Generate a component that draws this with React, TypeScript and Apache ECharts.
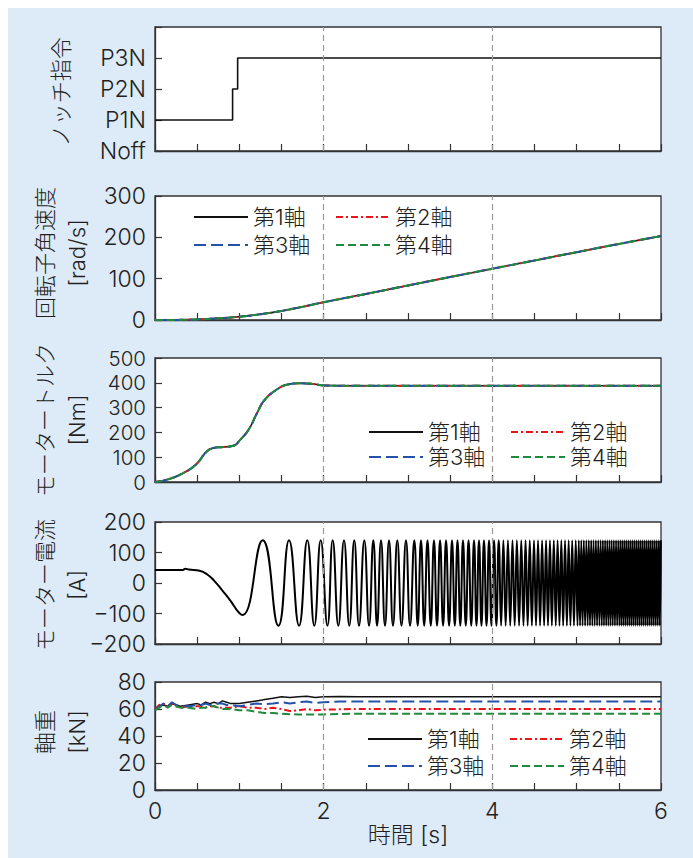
import React, { useEffect, useRef } from "react";
import * as echarts from "echarts";

// ---------- data ----------
const X_LABELS = [0, 2, 4, 6];
const NOTCH_LABELS = ["Noff", "P1N", "P2N", "P3N", ""];
const AXLES = ["第1軸", "第2軸", "第3軸", "第4軸"];

const notchT = [0, 0.92, 0.92, 0.98, 0.98, 6];
const notchV = [1, 1, 2, 2, 3, 3];

const speedT = [0, 0.25, 0.5, 0.75, 1, 1.25, 1.5, 1.75, 2, 2.5, 3, 3.5, 4, 4.5, 5, 5.5, 6];
const speedV = [0, 0.3, 1.5, 4, 8, 14, 22, 32, 43, 63, 83.5, 104, 124, 144, 164, 184, 203];

const torqueT = [0, 0.14, 0.34, 0.49, 0.61, 0.69, 0.81, 0.93, 1.01, 1.11, 1.21, 1.3, 1.44, 1.56, 1.72, 1.88, 2.0, 2.5, 3, 4, 5, 6];
const torqueV = [0, 9, 37, 72, 122, 137, 141, 146, 170, 211, 278, 331, 372, 392, 398, 395, 389, 388, 388, 388, 388, 388];

// motor current: slow start, then alternating extremes
const currentStartT = [0, 0.33, 0.36, 0.4, 0.53, 0.62, 0.7, 0.8, 0.9, 0.98, 1.04];
const currentStartV = [43, 43, 47, 44, 40, 28, 8, -25, -60, -92, -105];
const CURRENT_PEAK = 140;
const CURRENT_TROUGH = -140;
const currentPeakT = [
  1.277, 1.589, 1.806, 1.965, 2.107, 2.241, 2.363, 2.482, 2.589, 2.68, 2.775, 2.873, 2.976, 3.075,
  3.154, 3.231, 3.308, 3.38, 3.451, 3.522, 3.587, 3.652, 3.718, 3.783, 3.842, 3.901, 3.961, 4.02,
  4.076, 4.131, 4.185, 4.239, 4.291, 4.343, 4.394, 4.444, 4.494, 4.542, 4.59, 4.637, 4.683, 4.729,
  4.774, 4.818, 4.862, 4.905, 4.947, 4.989, 5.025, 5.055, 5.085, 5.115, 5.144, 5.172, 5.2, 5.228,
  5.256, 5.284, 5.311, 5.337, 5.363, 5.389, 5.415, 5.441, 5.467, 5.493, 5.518, 5.542, 5.566, 5.59,
  5.614, 5.638, 5.662, 5.686, 5.71, 5.734, 5.758, 5.782, 5.806, 5.83, 5.854, 5.878, 5.902, 5.926,
  5.95, 5.974, 5.998,
];
const currentTroughT = [
  1.463, 1.708, 1.889, 2.045, 2.174, 2.304, 2.419, 2.538, 2.633, 2.727, 2.822, 2.923, 3.024, 3.115,
  3.192, 3.27, 3.344, 3.416, 3.487, 3.555, 3.62, 3.685, 3.75, 3.812, 3.871, 3.931, 3.99, 4.048,
  4.104, 4.158, 4.212, 4.265, 4.317, 4.369, 4.419, 4.469, 4.518, 4.566, 4.614, 4.66, 4.706, 4.752,
  4.796, 4.84, 4.884, 4.926, 4.968, 5.01, 5.04, 5.07, 5.1, 5.13, 5.158, 5.186, 5.214, 5.242, 5.27,
  5.298, 5.324, 5.35, 5.376, 5.402, 5.428, 5.454, 5.48, 5.506, 5.53, 5.554, 5.578, 5.602, 5.626,
  5.65, 5.674, 5.698, 5.722, 5.746, 5.77, 5.794, 5.818, 5.842, 5.866, 5.89, 5.914, 5.938, 5.962,
  5.986,
];

const loadT = [0, 0.05, 0.1, 0.15, 0.2, 0.25, 0.3, 0.4, 0.5, 0.55, 0.6, 0.65, 0.7, 0.75, 0.8, 0.85, 0.9, 1.0, 1.1, 1.2, 1.3, 1.4, 1.5, 1.6, 1.7, 1.8, 1.9, 2.0, 2.2, 2.4, 3, 4, 5, 6];
const load1 = [60, 62, 63, 62, 64, 63, 62, 63, 64, 63, 65, 64, 65, 64, 66, 65, 64, 64, 65, 66, 67, 68, 69, 68.5, 69, 69.5, 68.5, 69, 69.2, 69, 69, 69, 69, 69];
const load2 = [60, 63, 64, 62, 64, 62, 61, 62, 62, 62, 61, 62, 62, 61, 61, 61, 61, 62, 61, 61, 60, 61, 60, 58.5, 59, 60, 59, 59.5, 59.8, 60, 60, 60, 60, 60];
const load3 = [59, 62, 64, 62, 65, 63, 62, 62, 63, 63, 64, 63, 63, 64, 64, 63, 63, 62, 63, 64, 63.5, 64, 65, 64, 65, 65.5, 64.5, 65, 65.5, 65.5, 65.5, 65.5, 65.5, 65.5];
const load4 = [59, 61, 63, 61, 63, 62, 61, 61, 60, 61, 61, 62, 62, 61, 60, 60, 60, 59, 59, 58, 57, 57, 56.5, 56.2, 56, 56, 56, 56, 56.3, 56.5, 56.5, 56.5, 56.5, 56.5];

// ---------- styles ----------
const FONT = "Inter, 'Noto Sans CJK JP', sans-serif";
const WEIGHT = 300;
const TXT = "#231f20";
const AXLE_STYLES = [
  { color: "#111111", type: "solid" as any, width: 1.5 },
  { color: "#e8141c", type: [7, 3, 2, 3], width: 2 },
  { color: "#2452a6", type: [12, 5], width: 2 },
  { color: "#1f8a3e", type: [8, 4], width: 2 },
];

const zip = (t: number[], v: number[]) => t.map((x, i) => [x, v[i]]);

export default function App() {
  const ref = useRef<HTMLDivElement>(null);
  useEffect(() => {
    if (!ref.current) return;
    const chart = echarts.init(ref.current, undefined, { renderer: "svg" });

    const grids = [
      { top: 19, height: 124 },
      { top: 188, height: 124 },
      { top: 350, height: 124 },
      { top: 514, height: 122 },
      { top: 674, height: 108 },
    ].map((g) => ({
      left: 147,
      width: 506,
      top: g.top,
      height: g.height,
      show: true,
      backgroundColor: "#ffffff",
      borderColor: "#333333",
      borderWidth: 1.3,
    }));

    const xAxes = grids.map((_, i) => ({
      gridIndex: i,
      type: "value",
      min: 0,
      max: 6,
      interval: 0.5,
      axisLine: { show: true, onZero: false, lineStyle: { color: "#333333", width: 1.3 } },
      axisTick: { show: true, inside: true, length: 7, lineStyle: { color: "#333333", width: 1.2 } },
      splitLine: { show: false },
      axisLabel: {
        show: i === 4,
        margin: 9,
        fontSize: 23,
        fontFamily: FONT,
        fontWeight: WEIGHT,
        color: TXT,
        formatter: (v: number) => (X_LABELS.includes(v) ? String(v) : ""),
      },
    }));

    const yCommon = {
      type: "value",
      axisLine: { show: true, onZero: false, lineStyle: { color: "#333333", width: 1.3 } },
      axisTick: { show: true, inside: true, length: 7, lineStyle: { color: "#333333", width: 1.2 } },
      splitLine: { show: false },
    };
    const lbl = (formatter?: any, fontSize = 23) => ({
      margin: 9,
      fontSize,
      lineHeight: 20,
      fontFamily: FONT,
      fontWeight: WEIGHT,
      color: TXT,
      ...(formatter ? { formatter } : {}),
    });
    const yAxes = [
      { ...yCommon, gridIndex: 0, min: 0, max: 4, interval: 1, axisLabel: lbl((v: number) => NOTCH_LABELS[v] ?? "") },
      { ...yCommon, gridIndex: 1, min: 0, max: 300, interval: 100, axisLabel: lbl() },
      { ...yCommon, gridIndex: 2, min: 0, max: 500, interval: 100, axisLabel: lbl(undefined, 20.5) },
      {
        ...yCommon,
        gridIndex: 3,
        min: -200,
        max: 200,
        interval: 100,
        axisLabel: lbl((v: number) => (v < 0 ? "\u2212" + Math.abs(v) : String(v))),
      },
      { ...yCommon, gridIndex: 4, min: 0, max: 80, interval: 20, axisLabel: lbl() },
    ];

    const markLine = {
      silent: true,
      symbol: ["none", "none"],
      label: { show: false },
      lineStyle: { color: "#9a9a9a", type: [6, 4], width: 1.2 },
      data: [{ xAxis: 2 }, { xAxis: 4 }],
    };

    const series: any[] = [];
    series.push({
      type: "line",
      name: "notch",
      xAxisIndex: 0,
      yAxisIndex: 0,
      data: zip(notchT, notchV),
      symbol: "none",
      lineStyle: { color: "#111", width: 1.6 },
      markLine,
    });

    const speedSets = [speedV, speedV, speedV, speedV];
    AXLES.forEach((name, k) => {
      series.push({
        type: "line",
        name,
        xAxisIndex: 1,
        yAxisIndex: 1,
        data: zip(speedT, speedSets[k]),
        symbol: "none",
        smooth: true,
        color: AXLE_STYLES[k].color,
        lineStyle: { ...AXLE_STYLES[k] },
        ...(k === 0 ? { markLine } : {}),
      });
    });

    const torqueSets = [torqueV, torqueV, torqueV, torqueV];
    AXLES.forEach((name, k) => {
      series.push({
        type: "line",
        name,
        xAxisIndex: 2,
        yAxisIndex: 2,
        data: zip(torqueT, torqueSets[k]),
        symbol: "none",
        smooth: true,
        color: AXLE_STYLES[k].color,
        lineStyle: { ...AXLE_STYLES[k] },
        ...(k === 0 ? { markLine } : {}),
      });
    });

    const currentData: number[][] = zip(currentStartT, currentStartV);
    const ext: number[][] = [
      ...currentPeakT.map((t) => [t, CURRENT_PEAK]),
      ...currentTroughT.map((t) => [t, CURRENT_TROUGH]),
    ].sort((a, b) => a[0] - b[0]);
    currentData.push(...ext);
    series.push({
      type: "line",
      name: "current",
      xAxisIndex: 3,
      yAxisIndex: 3,
      data: currentData,
      symbol: "none",
      smooth: 0.5,
      lineStyle: { color: "#000", width: 2 },
      markLine,
    });

    const loadSets = [load1, load2, load3, load4];
    AXLES.forEach((name, k) => {
      series.push({
        type: "line",
        name,
        xAxisIndex: 4,
        yAxisIndex: 4,
        data: zip(loadT, loadSets[k]),
        symbol: "none",
        color: AXLE_STYLES[k].color,
        lineStyle: { ...AXLE_STYLES[k] },
        ...(k === 0 ? { markLine } : {}),
      });
    });

    const legendAt = (name: string, left: number, cy: number) => ({
      show: true,
      data: [name],
      left,
      top: cy - 12,
      padding: 0,
      itemWidth: 54,
      itemHeight: 12,
      itemGap: 0,
      selectedMode: false,
      itemStyle: { opacity: 0, borderWidth: 0 },
      textStyle: { fontSize: 22, fontFamily: FONT, fontWeight: WEIGHT, color: TXT },
    });
    const legendBlock = (c1: number, c2: number, r1: number, r2: number) => [
      legendAt(AXLES[0], c1, r1),
      legendAt(AXLES[1], c2, r1),
      legendAt(AXLES[2], c1, r2),
      legendAt(AXLES[3], c2, r2),
    ];
    const legends = [
      ...legendBlock(185, 327, 210, 238),
      ...legendBlock(360, 502, 425, 450),
      ...legendBlock(359, 501, 732, 759),
    ];

    const nameText = (text: string, x: number, y: number) => ({
      type: "text",
      x,
      y,
      rotation: Math.PI / 2,
      style: {
        text,
        fontSize: 22,
        fontFamily: FONT,
        fontWeight: WEIGHT,
        fill: TXT,
        align: "center",
        verticalAlign: "middle",
        lineHeight: 32,
      },
    });

    chart.setOption({
      animation: false,
      backgroundColor: "#ddeaf8",
      grid: grids,
      xAxis: xAxes,
      yAxis: yAxes,
      legend: legends,
      series,
      graphic: [
        nameText("ノッチ指令", 53, 84),
        nameText("回転子角速度\n[rad/s]", 53, 245),
        nameText("モータートルク\n[Nm]", 53, 412),
        nameText("モーター電流\n[A]", 53, 577),
        nameText("軸重\n[kN]", 53, 724),
        {
          type: "text",
          x: 400,
          y: 827,
          style: {
            text: "時間 [s]",
            fontSize: 23,
            fontFamily: FONT,
            fontWeight: WEIGHT,
            fill: TXT,
            align: "center",
            verticalAlign: "middle",
          },
        },
      ],
    });
    return () => chart.dispose();
  }, []);

  return (
    <div
      ref={ref}
      style={{ position: "fixed", left: 8, top: 8, width: 685, height: 850 }}
    />
  );
}
